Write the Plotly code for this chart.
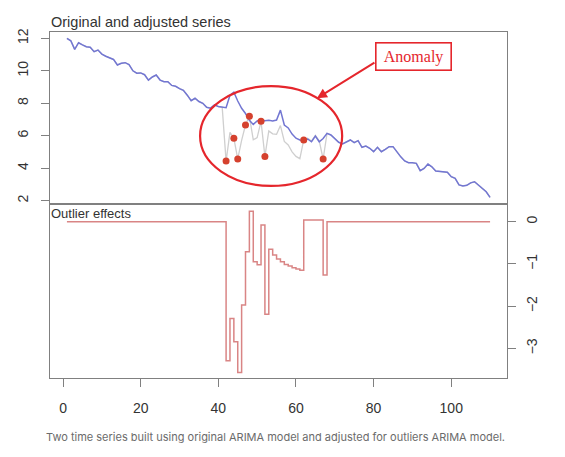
import plotly.graph_objects as go

# ---- data ----
t = list(range(1, 111))

adjusted = [
    12.0, 11.85, 11.32, 11.73, 11.6, 11.48, 11.45, 11.18, 11.28, 11.03,
    10.9, 10.8, 10.7, 10.36, 10.46, 10.5, 10.38, 10.0, 9.85, 9.87,
    9.76, 9.43, 9.62, 9.74, 9.43, 9.33, 9.33, 9.1, 9.05, 8.9,
    8.8, 8.5, 8.16, 8.31, 8.11, 8.0, 7.75, 7.7, 7.9, 7.8,
    7.75, 7.73, 8.5, 8.68, 8.14, 7.69, 7.37, 6.95, 6.7, 6.91,
    6.97, 6.92, 6.95, 6.91, 6.97, 7.58, 6.66, 6.48, 6.1, 5.85,
    5.74, 5.70, 5.8, 5.63, 5.98, 5.63, 5.83, 6.15, 6.05, 5.84,
    5.6, 5.5, 5.6, 5.74, 5.58, 5.7, 5.29, 5.37, 5.23, 5.02,
    5.29, 5.02, 5.16, 5.33, 5.33, 5.0, 4.7, 4.45, 4.34, 4.34,
    4.3, 3.85, 3.99, 4.26, 4.09, 3.83, 3.79, 3.79, 3.75, 3.48,
    3.38, 2.97, 2.91, 2.95, 3.1, 3.17, 2.97, 2.8, 2.55, 2.21,
]

effects = [0.0] * 41 + [
    -3.29, -2.29, -2.84, -3.57, -1.97, -0.71, 0.25, -0.95, -1.02, -0.08,
    -2.19, -0.65, -0.79, -0.88, -0.95, -1.01, -1.05, -1.09, -1.12, -1.15,
    0.04, 0.04, 0.04, 0.04, 0.04, -1.26,
] + [0.0] * 43

outlier_idx = [42, 44, 45, 47, 48, 51, 52, 62, 67]

# original series = adjusted series + outlier effects
original = [a + e for a, e in zip(adjusted, effects)]
outlier_vals = [original[i - 1] for i in outlier_idx]

x_ticks = [0, 20, 40, 60, 80, 100]
y_top_ticks = [2, 4, 6, 8, 10, 12]
y_bot_ticks = [0, -1, -2, -3]

caption = "Two time series built using original ARIMA model and adjusted for outliers ARIMA model."

# ---- styles ----
AX = "#808080"
TXT = "#333333"
RED = "#e5262c"

# page body has an 8px default margin; figure is sized/offset to compensate
W, H = 557, 449
L, T = 42, 24
PW = 457.5          # plot area width
PH = 346            # plot area height

fig = go.Figure()
fig.add_trace(go.Scatter(x=t, y=original, mode="lines",
                         line=dict(color="#cfcfcf", width=1.3),
                         xaxis="x", yaxis="y", showlegend=False, hoverinfo="skip"))
fig.add_trace(go.Scatter(x=t, y=adjusted, mode="lines",
                         line=dict(color="#7276d2", width=1.5),
                         xaxis="x", yaxis="y", showlegend=False))
fig.add_trace(go.Scatter(x=outlier_idx, y=outlier_vals, mode="markers",
                         marker=dict(color="#d5412e", size=7),
                         xaxis="x", yaxis="y", showlegend=False))
fig.add_trace(go.Scatter(x=t, y=effects, mode="lines",
                         line=dict(color="#d98585", width=1.5, shape="hv"),
                         xaxis="x2", yaxis="y2", showlegend=False))

xr = [-3.36, 114.36]
base_ax = dict(showgrid=False, zeroline=False, showline=True, linecolor=AX,
               linewidth=1, mirror=True, automargin=False)
tick_ax = dict(tickcolor=AX, ticklen=8,
               tickfont=dict(family="Liberation Sans", size=14, color=TXT))

fig.update_layout(
    width=W, height=H, autosize=False,
    margin=dict(l=L, r=W - L - PW, t=T, b=H - T - PH, pad=0),
    paper_bgcolor="white", plot_bgcolor="white",
    xaxis=dict(domain=[0, 1], anchor="y", range=xr, showticklabels=False,
               ticks="", **base_ax),
    yaxis=dict(domain=[0.5058, 1], anchor="x", range=[1.86, 12.39],
               tickvals=y_top_ticks, ticks="outside", tickangle=-90,
               ticklabelstandoff=7, **base_ax, **tick_ax),
    xaxis2=dict(domain=[0, 1], anchor="y2", range=xr, tickvals=x_ticks,
                ticks="outside", ticklabelstandoff=9, **base_ax, **tick_ax),
    yaxis2=dict(domain=[0, 0.5], anchor="x2", side="right", range=[-3.70, 0.396],
                tickvals=y_bot_ticks, ticks="outside", tickangle=-90,
                ticklabelstandoff=4, **base_ax, **tick_ax),
)

fig.add_shape(type="circle", xref="x", yref="y", x0=35.3, x1=71.9, y0=2.91, y1=9.06,
              line=dict(color=RED, width=2.2))

fig.add_annotation(xref="x", yref="y", x=90.4, y=10.91, text="Anomaly", showarrow=False,
                   font=dict(family="Liberation Serif", size=16, color=RED),
                   bordercolor=RED, borderwidth=1.6, borderpad=3, bgcolor="white",
                   width=68, height=20)
fig.add_annotation(xref="x", yref="y", x=65.4, y=8.31, axref="x", ayref="y",
                   ax=80.6, ay=10.56, text="", showarrow=True,
                   arrowcolor=RED, arrowwidth=2, arrowhead=2, arrowsize=1, standoff=0)

fig.add_annotation(xref="paper", yref="paper", x=-0.002, y=1.03, xanchor="left",
                   yanchor="middle", text="Original and adjusted series", showarrow=False,
                   font=dict(family="Liberation Sans", size=14.5, color=TXT))
fig.add_annotation(xref="paper", yref="paper", x=-0.002, y=0.474, xanchor="left",
                   yanchor="middle", text="Outlier effects", showarrow=False,
                   font=dict(family="Liberation Sans", size=13, color=TXT))
fig.add_annotation(xref="paper", yref="paper", x=0.494, y=-0.1705, xanchor="center",
                   yanchor="middle", text=caption, showarrow=False,
                   font=dict(family="Inter", size=11, color="#6b6b6b"))

fig.write_html("out.html")
